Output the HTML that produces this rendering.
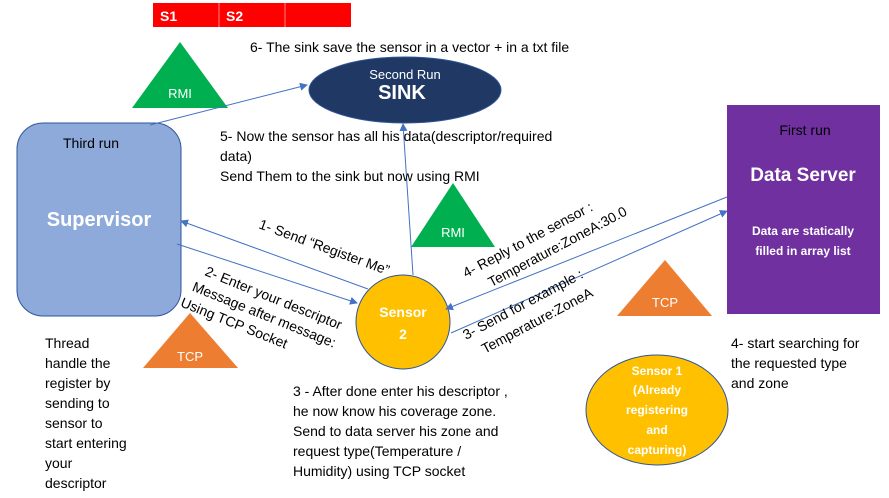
<!DOCTYPE html>
<html><head><meta charset="utf-8"><style>
html,body{margin:0;padding:0;background:#fff;}
svg{display:block;font-family:"Liberation Sans",sans-serif;}
</style></head><body>
<svg width="889" height="498" viewBox="0 0 889 498" xmlns="http://www.w3.org/2000/svg">
<defs>
<marker id="a" markerWidth="8" markerHeight="8" refX="7" refY="4" orient="auto" markerUnits="userSpaceOnUse">
<path d="M0,0 L8,4 L0,8 z" fill="#4472c4"/></marker>
</defs>
<rect x="153" y="3" width="198" height="24" fill="#ff0000"/>
<line x1="219" y1="3" x2="219" y2="27" stroke="#ff8080" stroke-width="1"/>
<line x1="285" y1="3" x2="285" y2="27" stroke="#ff8080" stroke-width="1"/>
<text x="160" y="21" font-size="14" font-weight="bold" fill="#fff">S1</text>
<text x="226" y="21" font-size="14" font-weight="bold" fill="#fff">S2</text>

<text x="250" y="52" font-size="14" fill="#000">6- The sink save the sensor in a vector + in a txt file</text>

<polygon points="180,42 132,108 228,108" fill="#00b050"/>
<text x="180" y="98" font-size="13" fill="#fff" text-anchor="middle">RMI</text>
<polygon points="453,183 411,247 495,247" fill="#00b050"/>
<text x="453" y="237" font-size="13" fill="#fff" text-anchor="middle">RMI</text>
<polygon points="190,313 143,368 238,368" fill="#ed7d31"/>
<text x="190" y="361" font-size="13" fill="#fff" text-anchor="middle">TCP</text>
<polygon points="665,260 617,316 712,316" fill="#ed7d31"/>
<text x="665" y="307" font-size="13" fill="#fff" text-anchor="middle">TCP</text>

<ellipse cx="405" cy="90" rx="96" ry="33" fill="#203864" stroke="#2f5597"/>
<text x="405" y="79" font-size="13" fill="#fff" text-anchor="middle">Second Run</text>
<text x="402" y="99" font-size="20" font-weight="bold" fill="#fff" text-anchor="middle">SINK</text>

<rect x="17" y="123" width="164" height="193" rx="26" fill="#8eaadb" stroke="#2f5597"/>
<text x="91" y="148" font-size="14" fill="#000" text-anchor="middle">Third run</text>
<text x="99" y="226" font-size="20" font-weight="bold" fill="#fff" text-anchor="middle">Supervisor</text>

<rect x="727" y="105" width="153" height="209" fill="#7030a0"/>
<text x="805" y="135" font-size="14" fill="#000" text-anchor="middle">First run</text>
<text x="803" y="181" font-size="19" font-weight="bold" fill="#fff" text-anchor="middle">Data Server</text>
<text x="803" y="235" font-size="12" font-weight="bold" fill="#fff" text-anchor="middle">Data are statically</text>
<text x="803" y="255" font-size="12" font-weight="bold" fill="#fff" text-anchor="middle">filled in array list</text>

<circle cx="403" cy="322" r="47" fill="#ffc000" stroke="#2f5597"/>
<text x="403" y="317" font-size="14" font-weight="bold" fill="#fff" text-anchor="middle">Sensor</text>
<text x="403" y="339" font-size="14" font-weight="bold" fill="#fff" text-anchor="middle">2</text>

<ellipse cx="657" cy="410" rx="71" ry="55" fill="#ffc000" stroke="#2f5597"/>
<g font-size="12" font-weight="bold" fill="#fff" text-anchor="middle">
<text x="657" y="375">Sensor 1</text>
<text x="657" y="394">(Already</text>
<text x="657" y="414">registering</text>
<text x="657" y="434">and</text>
<text x="657" y="454">capturing)</text>
</g>

<g stroke="#4472c4" stroke-width="1" fill="none">
<line x1="150" y1="125" x2="307" y2="85" marker-end="url(#a)"/>
<line x1="413" y1="275" x2="403" y2="124" marker-end="url(#a)"/>
<line x1="368" y1="289" x2="181" y2="221" marker-end="url(#a)"/>
<line x1="177" y1="244" x2="357" y2="303" marker-end="url(#a)"/>
<line x1="727" y1="197" x2="446" y2="309" marker-end="url(#a)"/>
<line x1="451" y1="333" x2="727" y2="211" marker-end="url(#a)"/>
</g>

<g font-size="14" fill="#000">
<text x="220" y="141">5- Now the sensor has all his data(descriptor/required</text>
<text x="220" y="161">data)</text>
<text x="220" y="181">Send Them to the sink but now using RMI</text>

<text transform="translate(258,228) rotate(20)">1- Send “Register Me”</text>
<g transform="translate(204,275) rotate(22)">
<text x="0" y="0">2- Enter your descriptor</text>
<text x="-6" y="19">Message after message:</text>
<text x="-11" y="38">Using TCP Socket</text>
</g>
<g transform="translate(466,278) rotate(-28)">
<text x="0" y="0">4- Reply to the sensor :</text>
<text x="18" y="20">Temperature:ZoneA:30.0</text>
</g>
<g transform="translate(466,340) rotate(-28)">
<text x="0" y="0">3- Send for example :</text>
<text x="10" y="21">Temperature:ZoneA</text>
</g>

<text x="45" y="348">Thread</text>
<text x="45" y="368">handle the</text>
<text x="45" y="388">register by</text>
<text x="45" y="408">sending to</text>
<text x="45" y="428">sensor to</text>
<text x="45" y="448">start entering</text>
<text x="45" y="468">your</text>
<text x="45" y="488">descriptor</text>

<text x="293" y="396">3 - After done enter his descriptor ,</text>
<text x="293" y="416">he now know his coverage zone.</text>
<text x="293" y="436">Send to data server his zone and</text>
<text x="293" y="456">request type(Temperature /</text>
<text x="293" y="476">Humidity) using TCP socket</text>

<text x="731" y="348">4- start searching  for</text>
<text x="731" y="368">the requested type</text>
<text x="731" y="388">and zone</text>
</g>
</svg>
</body></html>
